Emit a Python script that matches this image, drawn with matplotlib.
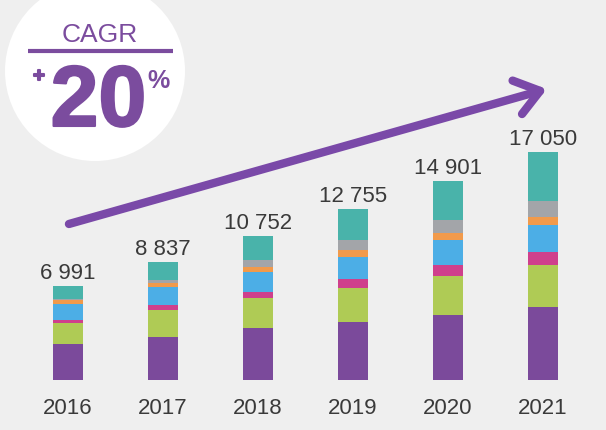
import numpy as np
import matplotlib
matplotlib.use("Agg")
import matplotlib.pyplot as plt
import matplotlib.patheffects as pe
from matplotlib.patches import Circle, FancyArrowPatch

years = ["2016", "2017", "2018", "2019", "2020", "2021"]
totals = [6991, 8837, 10752, 12755, 14901, 17050]

# stacked segments, bottom to top
seg_purple = [2663, 3230, 3857, 4349, 4849, 5446]
seg_green = [1567, 1992, 2238, 2559, 2909, 3133]
seg_pink = [246, 373, 500, 671, 821, 970]
seg_blue = [1171, 1320, 1440, 1619, 1917, 2014]
seg_orange = [298, 351, 425, 500, 500, 597]
seg_gray = [112, 201, 545, 746, 947, 1194]
seg_teal = [934, 1370, 1747, 2311, 2958, 3696]

cagr_label = "CAGR"
cagr_value = "20"

bg = "#efefef"
purple = "#7b4c9e"
colors = ["#7b4a9b", "#afcb55", "#cf408c", "#4caee6", "#f19a4b", "#a3a5a9", "#49b3aa"]
segments = [seg_purple, seg_green, seg_pink, seg_blue, seg_orange, seg_gray, seg_teal]

W, H = 606, 431
fig = plt.figure(figsize=(W / 100, H / 100), dpi=100, facecolor=bg)

# overlay in pixel coordinates for the CAGR badge
ov = fig.add_axes([0, 0, 1, 1], zorder=0)
ov.set_xlim(0, W)
ov.set_ylim(H, 0)
ov.axis("off")

# main bar axes: bar centres 95 px apart, baseline at y=381 px
px_per_unit = 0.01338
left_px, right_px = 20.5, 590.5
base_px = 381
ax = fig.add_axes([left_px / W, (H - base_px) / H, (right_px - left_px) / W, base_px / H], zorder=1)
ax.set_facecolor("none")
ax.set_xlim(-0.5, 5.5)
ax.set_ylim(0, base_px / px_per_unit)

x = np.arange(len(years))
bottom = np.zeros(len(years))
for vals, c in zip(segments, colors):
    ax.bar(x, vals, bottom=bottom, width=0.316, color=c, edgecolor="none")
    bottom += np.array(vals)

for xi, t in zip(x, totals):
    label = f"{t:,}".replace(",", " ")
    ax.annotate(label, (xi, t), xytext=(0, 5.8), textcoords="offset points",
                ha="center", va="baseline", fontsize=16, color="#3a3a3a",
                family="Liberation Sans")

ax.set_xticks(x)
ax.set_xticklabels(years, fontsize=16, color="#3a3a3a", family="Liberation Sans")
ax.tick_params(axis="x", length=0, pad=12)
ax.set_yticks([])
for s in ax.spines.values():
    s.set_visible(False)

# growth arrow
arrow = FancyArrowPatch((0.01, 11660), (5.04, 21750),
                        arrowstyle="->,head_length=1.7,head_width=1.25",
                        mutation_scale=10, lw=6, color="#7a49a8",
                        capstyle="round", joinstyle="round",
                        shrinkA=0, shrinkB=0)
ax.add_patch(arrow)

# CAGR badge
ov.add_patch(Circle((95, 72), 90, facecolor="white", edgecolor="none"))
ov.text(100, 42, cagr_label, ha="center", va="baseline", fontsize=19,
        color=purple, family="Liberation Sans")
ov.plot([28, 173], [52, 52], color=purple, lw=3, solid_capstyle="butt")
ov.text(98.5, 127, cagr_value, ha="center", va="baseline", fontsize=62,
        fontweight="bold", color=purple, family="Liberation Sans",
        path_effects=[pe.withStroke(linewidth=1.5, foreground=purple)])
ov.text(39, 83, "+", ha="center", va="baseline", fontsize=15,
        fontweight="bold", color=purple, family="Liberation Sans",
        path_effects=[pe.withStroke(linewidth=1.5, foreground=purple)])
ov.text(147, 88, "%", ha="left", va="baseline", fontsize=18,
        fontweight="bold", color=purple, family="Liberation Sans")

fig.savefig("out.png", dpi=100, facecolor=bg)
